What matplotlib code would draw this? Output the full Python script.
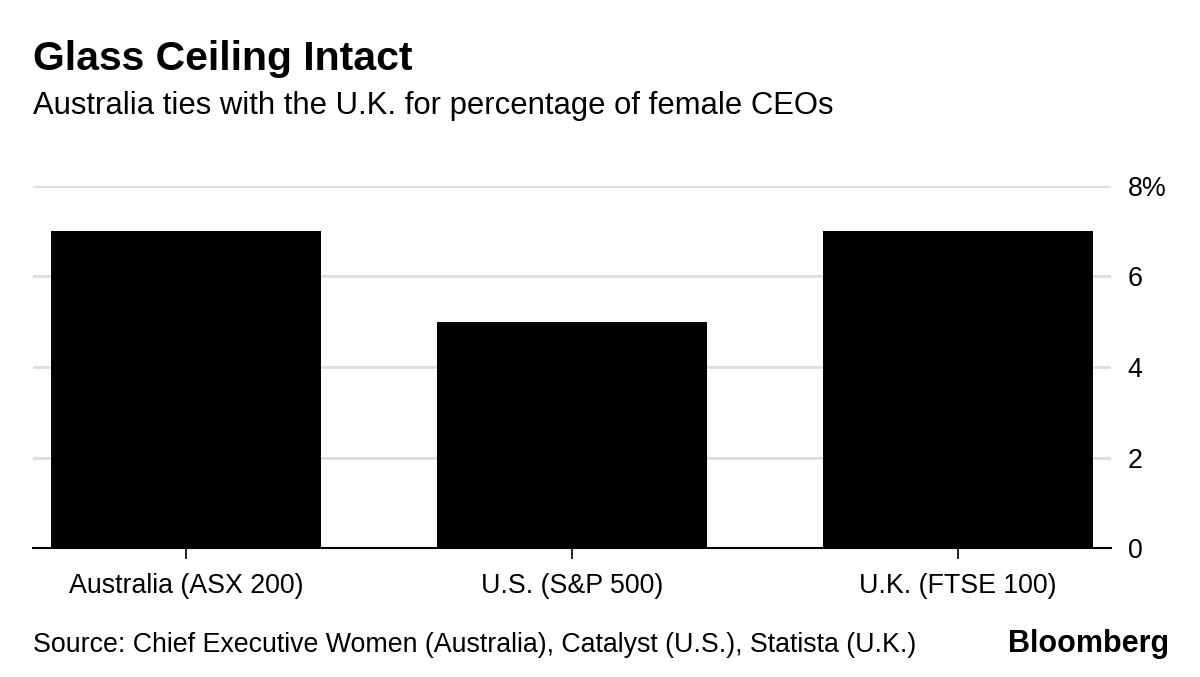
import matplotlib.pyplot as plt

# data
categories = ['Australia (ASX 200)', 'U.S. (S&P 500)', 'U.K. (FTSE 100)']
values = [7, 5, 7]
yticks = [0, 2, 4, 6, 8]
ytick_labels = ['0', '2', '4', '6', '8%']

plt.rcParams['font.family'] = ['Liberation Sans', 'DejaVu Sans']

fig = plt.figure(figsize=(12, 6.77), dpi=100)
ax = fig.add_axes([0.0275, 0.1905, 0.8983, 0.5348])

x = range(len(categories))
ax.bar(x, values, width=0.70, color='black', zorder=3)

ax.set_xlim(-0.396, 2.396)
ax.set_ylim(0, 8)
ax.set_xticks(list(x))
ax.set_xticklabels(categories, fontsize=19.3)
ax.set_yticks(yticks)
ax.set_yticklabels(ytick_labels, fontsize=19.3)

ax.yaxis.tick_right()
ax.yaxis.grid(True, color='#dddddd', linewidth=2, zorder=0)
ax.tick_params(axis='y', length=0, pad=12)
ax.tick_params(axis='x', length=8, width=1.2, color='black', pad=10)

for side in ['top', 'right', 'left']:
    ax.spines[side].set_visible(False)
ax.spines['bottom'].set_linewidth(1.5)
ax.spines['bottom'].set_zorder(4)

fig.text(0.0275, 0.897, 'Glass Ceiling Intact', fontsize=29.5, fontweight='bold', va='baseline')
fig.text(0.0275, 0.831, 'Australia ties with the U.K. for percentage of female CEOs',
         fontsize=22.3, va='baseline')
fig.text(0.0275, 0.037, 'Source: Chief Executive Women (Australia), Catalyst (U.S.), Statista (U.K.)',
         fontsize=19.3, va='baseline')
fig.text(0.974, 0.037, 'Bloomberg', fontsize=22, fontweight='bold', ha='right', va='baseline')

fig.savefig('out.png', dpi=100)
